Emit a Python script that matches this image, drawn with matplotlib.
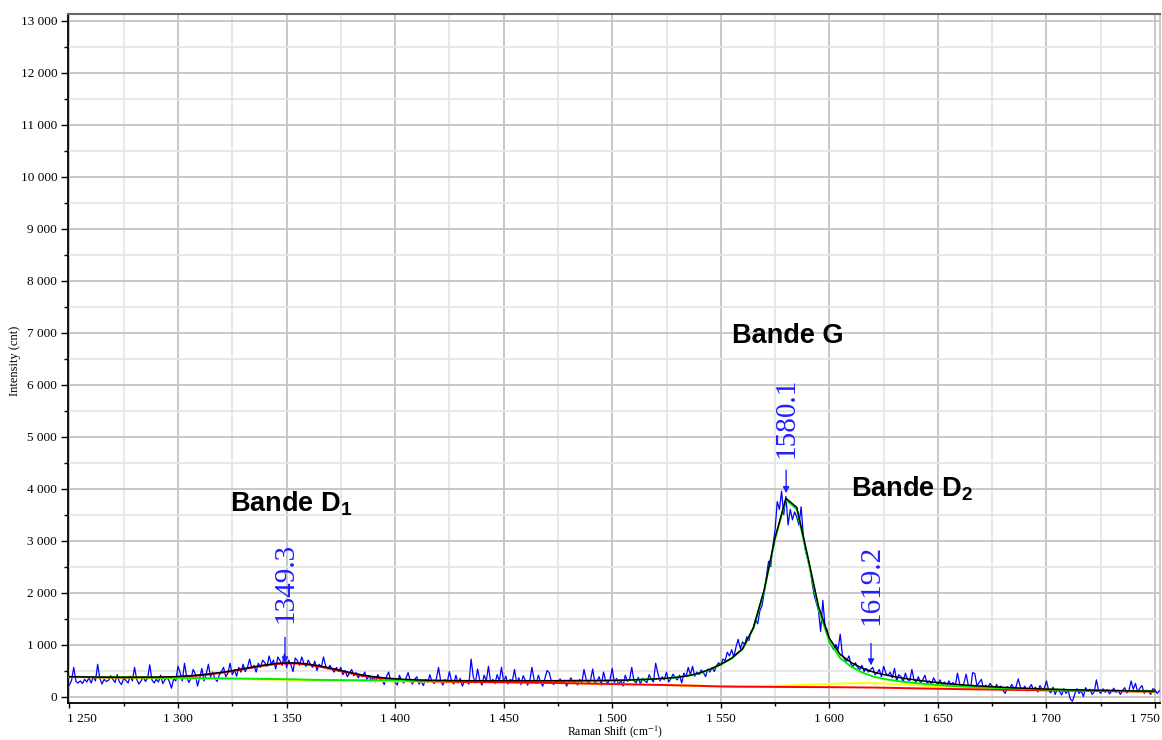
import numpy as np
import matplotlib
matplotlib.use('Agg')
import matplotlib.pyplot as plt
from matplotlib.ticker import MultipleLocator, FuncFormatter

plt.rcParams['mathtext.fontset'] = 'custom'
plt.rcParams['mathtext.rm'] = 'Liberation Sans'
plt.rcParams['mathtext.bf'] = 'Liberation Sans:bold'

# ---------------- data ----------------
raman_shift = np.arange(1250, 1753)  # cm-1, step 1

intensity = [
    220, 310, 560, 290, 260, 300, 250, 330, 280, 360,
    260, 380, 300, 620, 350, 240, 330, 290, 310, 400,
    330, 270, 420, 280, 230, 350, 310, 260, 390, 300,
    560, 330, 240, 300, 380, 290, 350, 610, 320, 260,
    330, 280, 410, 250, 320, 370, 290, 160, 340, 300,
    580, 460, 300, 640, 380, 270, 350, 520, 430, 200,
    360, 540, 300, 430, 620, 380, 470, 350, 290, 410,
    480, 560, 380, 450, 640, 420, 510, 390, 560, 470,
    620, 480, 560, 720, 540, 600, 470, 640, 560, 700,
    650, 580, 780, 620, 700, 530, 760, 690, 600, 820,
    560, 700, 610, 480, 740, 690, 600, 760, 640, 580,
    700, 620, 560, 680, 500, 620, 560, 760, 590, 530,
    600, 520, 470, 560, 480, 560, 420, 500, 380, 450,
    520, 400, 460, 360, 420, 380, 470, 330, 400, 310,
    370, 280, 420, 330, 310, 230, 380, 470, 300, 350,
    280, 220, 410, 300, 260, 350, 460, 300, 240, 330,
    380, 240, 300, 210, 330, 270, 420, 290, 250, 340,
    560, 300, 220, 330, 270, 480, 300, 240, 410, 260,
    350, 200, 310, 280, 240, 720, 380, 260, 530, 310,
    220, 410, 300, 580, 270, 330, 250, 420, 300, 560,
    280, 390, 240, 330, 300, 520, 260, 360, 230, 400,
    310, 220, 290, 560, 330, 250, 410, 280, 200, 350,
    500, 460, 290, 230, 300, 270, 340, 250, 310, 200,
    280, 360, 250, 300, 220, 330, 270, 520, 330, 250,
    310, 530, 260, 300, 380, 220, 470, 300, 260, 330,
    540, 270, 350, 230, 310, 200, 410, 290, 330, 560,
    300, 260, 370, 240, 350, 300, 270, 420, 330, 280,
    640, 450, 300, 380, 320, 470, 280, 340, 430, 360,
    320, 410, 260, 450, 380, 560, 420, 580, 390, 470,
    420, 510, 460, 380, 530, 470, 560, 480, 590, 650,
    600, 720, 690, 850, 780, 900, 760, 950, 1100, 920,
    1050, 1000, 1150, 1080, 1250, 1320, 1480, 1400, 1650, 1750,
    2000, 2300, 2600, 2500, 2900, 3200, 3750, 3600, 3950, 3500,
    3850, 3300, 3600, 3400, 3550, 3450, 3300, 3650, 3100, 2800,
    2650, 2500, 2200, 1950, 1800, 1650, 1250, 1850, 1350, 1280,
    1050, 980, 900, 1000, 900, 1200, 800, 720, 680, 780,
    620, 580, 650, 560, 520, 600, 480, 540, 470, 520,
    560, 420, 450, 520, 380, 580, 450, 400, 470, 360,
    540, 300, 420, 380, 280, 450, 330, 300, 520, 320,
    280, 380, 260, 320, 410, 250, 300, 230, 360, 280,
    240, 320, 210, 280, 180, 300, 230, 270, 200, 450,
    250, 180, 260, 430, 220, 140, 460, 440, 200, 270,
    330, 150, 220, 170, 250, 200, 140, 230, 160, 200,
    120, 60, 190, 150, 230, 160, 190, 340, 180, 120,
    200, 110, 160, 230, 130, 180, 90, 210, 140, 160,
    300, 120, 70, 180, 40, 140, 100, 30, 150, 60,
    120, -50, -90, 40, 150, 60, 110, 0, 170, 100,
    140, 40, 90, 320, 110, 60, 150, 80, 130, 50,
    100, 160, 80, 120, 40, 110, 170, 70, 120, 300,
    140, 250, 90, 160, 210, 60, 120, 100, 40, 150,
    130, 60, 110,
]

fit_x = np.arange(1250, 1755, 5)

baseline = [
    375, 373, 370, 368, 366, 364, 362, 360, 357, 355,
    352, 350, 347, 344, 341, 338, 335, 332, 329, 326,
    322, 318, 312, 308, 305, 303, 301, 299, 297, 295,
    293, 291, 289, 287, 285, 283, 281, 279, 277, 275,
    273, 271, 268, 265, 262, 259, 256, 252, 248, 244,
    240, 236, 232, 228, 224, 220, 215, 210, 205, 198,
    193, 190, 188, 187, 186, 185, 184, 183, 182, 181,
    180, 178, 176, 174, 172, 169, 165, 161, 157, 153,
    149, 145, 142, 139, 136, 133, 130, 127, 124, 121,
    118, 115, 112, 110, 108, 105, 103, 100, 98, 96,
    94,
]

band_d1 = [
    0, 0, 0, 0, 0, 0, 4, 6, 10, 15,
    25, 40, 60, 85, 115, 150, 190, 230, 268, 298,
    315, 316, 300, 270, 230, 185, 140, 100, 70, 48,
    32, 20, 12, 7, 4, 2, 0, 0, 0, 0,
    0, 0, 0, 0, 0, 0, 0, 0, 0, 0,
    0, 0, 0, 0, 0, 0, 0, 0, 0, 0,
    0, 0, 0, 0, 0, 0, 0, 0, 0, 0,
    0, 0, 0, 0, 0, 0, 0, 0, 0, 0,
    0, 0, 0, 0, 0, 0, 0, 0, 0, 0,
    0, 0, 0, 0, 0, 0, 0, 0, 0, 0,
    0,
]

band_g = [
    5, 5, 5, 5, 5, 6, 6, 6, 6, 7,
    7, 7, 7, 8, 8, 8, 9, 9, 9, 10,
    10, 11, 11, 12, 12, 13, 13, 14, 15, 15,
    16, 17, 18, 19, 20, 21, 22, 24, 25, 27,
    29, 31, 34, 37, 40, 44, 48, 53, 58, 63,
    70, 78, 88, 100, 115, 132, 155, 190, 240, 320,
    420, 540, 720, 1120, 1850, 2850, 3600, 3420, 2480, 1500,
    880, 560, 400, 290, 215, 170, 140, 118, 100, 87,
    72, 62, 54, 47, 41, 36, 31, 27, 23, 20,
    17, 15, 13, 12, 11, 10, 9, 8, 7, 7,
    6,
]

band_d2 = [
    0, 0, 0, 0, 0, 0, 0, 0, 0, 0,
    0, 0, 0, 0, 0, 0, 0, 0, 0, 0,
    0, 0, 0, 0, 0, 0, 0, 0, 0, 0,
    0, 0, 0, 0, 0, 0, 0, 0, 0, 0,
    0, 0, 0, 0, 0, 0, 0, 0, 0, 0,
    0, 0, 0, 0, 0, 0, 0, 0, 4, 5,
    7, 8, 10, 14, 18, 23, 28, 36, 45, 54,
    62, 70, 78, 84, 86, 83, 76, 68, 60, 52,
    45, 38, 32, 27, 23, 19, 16, 13, 11, 9,
    8, 7, 6, 5, 4, 4, 3, 3, 2, 2,
    2,
]

peak_positions = [1349.3, 1580.1, 1619.2]
peak_labels = ['1349.3', '1580.1', '1619.2']
band_names = ['Bande D$_\\mathbf{1}$', 'Bande G', 'Bande D$_\\mathbf{2}$']

# ---------------- figure ----------------
fig = plt.figure(figsize=(11.62, 7.40), dpi=100)
ax = fig.add_axes([0.0588, 0.05, 0.9395, 0.931])
ax.set_xlim(1249.5, 1752.3)
ax.set_ylim(-125, 13130)

base = np.array(baseline, dtype=float)
d1 = base + np.array(band_d1)
g = base + np.array(band_g)
d2 = base + np.array(band_d2)
total = base + np.array(band_d1) + np.array(band_g) + np.array(band_d2)

ax.plot(raman_shift, intensity, color='#0000ff', lw=0.9, zorder=3)
ax.plot(fit_x, d2, color='#ffff00', lw=1.4, zorder=4)
ax.plot(fit_x, d1, color='#ff0000', lw=1.4, zorder=4)
ax.plot(fit_x, g, color='#00ee00', lw=1.4, zorder=5)
ax.plot(fit_x, total, color='black', lw=1.1, zorder=6)

blue = '#2020ff'
arrow_top = [1137, 4354, 1021]
arrow_tip = [636, 3911, 597]
text_bottom = [1407, 4586, 1368]
for xp, lab, at, tip, tb in zip(peak_positions, peak_labels, arrow_top, arrow_tip, text_bottom):
    ax.annotate('', xy=(xp, tip), xytext=(xp, at),
                arrowprops=dict(arrowstyle='-|>', color=blue, lw=1.0,
                                mutation_scale=9, shrinkA=0, shrinkB=0),
                zorder=7)
    ax.text(xp, tb, lab, rotation=90, ha='center', va='bottom', fontsize=21,
            family='Liberation Serif', color=blue, zorder=7)

band_x = [1324.1, 1555.1, 1609.9]
band_y = [3554, 6808, 3840]
for bx, by, name in zip(band_x, band_y, band_names):
    ax.text(bx, by, name, fontsize=19.5, fontweight='bold', family='Liberation Sans',
            ha='left', va='baseline', color='black', zorder=7)

# axes styling
x_first, x_last = 1250, 1750


def thousands(v):
    return f"{int(round(v)):,}".replace(',', ' ')


ax.xaxis.set_major_locator(MultipleLocator(50))
ax.xaxis.set_minor_locator(MultipleLocator(25))
ax.yaxis.set_major_locator(MultipleLocator(1000))
ax.yaxis.set_minor_locator(MultipleLocator(500))
ax.xaxis.set_major_formatter(FuncFormatter(
    lambda v, p: '' if int(round(v)) in (x_first, x_last) else thousands(v)))
ax.yaxis.set_major_formatter(FuncFormatter(lambda v, p: thousands(v)))

ax.grid(which='major', color='#c4c4c4', lw=1.3, zorder=0)
ax.grid(which='minor', color='#e6e6e6', lw=1.3, zorder=0)
ax.set_axisbelow(True)

ax.tick_params(axis='y', which='major', length=5, width=1, pad=3, labelsize=9.5, direction='out')
ax.tick_params(axis='y', which='minor', length=3, width=1, direction='out')
ax.tick_params(axis='x', which='major', length=3.5, width=1, pad=4, labelsize=9.5, direction='out')
ax.tick_params(axis='x', which='minor', length=2.5, width=1, direction='out')
for lbl in ax.get_xticklabels() + ax.get_yticklabels():
    lbl.set_family('Liberation Serif')

# end labels of the x axis are shifted inside the plot width, as in the reference
for xv, dx in ((x_first, 9.0), (x_last, -7.5)):
    ax.annotate(thousands(xv), xy=(xv, 0), xycoords=ax.get_xaxis_transform(),
                xytext=(dx, -7.5), textcoords='offset points', ha='center', va='top',
                fontsize=9.5, family='Liberation Serif', annotation_clip=False)

ax.spines['left'].set_color('black')
ax.spines['left'].set_linewidth(1.3)
ax.spines['bottom'].set_color('black')
ax.spines['bottom'].set_linewidth(1.3)
ax.spines['top'].set_color('#666666')
ax.spines['top'].set_linewidth(1.5)
ax.spines['right'].set_color('#c8c8c8')
ax.spines['right'].set_linewidth(1.3)

fig.text(15 / 1162, 0.512, 'Intensity (cnt)', rotation=90, ha='center', va='center',
         fontsize=9, family='Liberation Serif')
fig.text(614.5 / 1162, 8.5 / 740, 'Raman Shift (cm$^{-1}$)', ha='center', va='center',
         fontsize=8.5, family='Liberation Serif', math_fontfamily='stix')

fig.savefig('out.png', dpi=100)
